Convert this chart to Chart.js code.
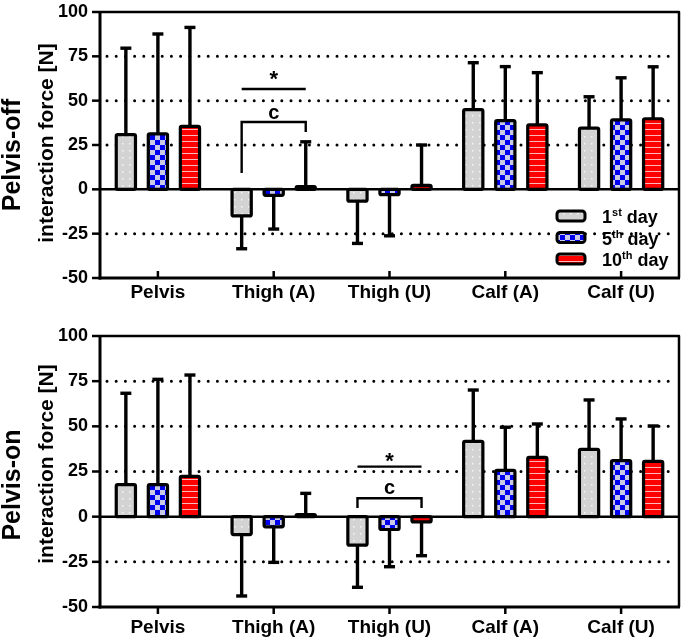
<!DOCTYPE html>
<html><head><meta charset="utf-8">
<script src="https://cdn.jsdelivr.net/npm/chart.js@4/dist/chart.umd.min.js"></script>
<style>
html,body{margin:0;padding:0;background:#fff;width:685px;height:640px;overflow:hidden}
.w{position:absolute;left:0;width:685px;height:320px}
</style></head><body>
<div class="w" style="top:0"><canvas id="c1" width="685" height="320"></canvas></div>
<div class="w" style="top:320px"><canvas id="c2" width="685" height="320"></canvas></div>
<script>
const categories = ['Pelvis', 'Thigh (A)', 'Thigh (U)', 'Calf (A)', 'Calf (U)'];
const seriesNames = [['1', 'st', ' day'], ['5', 'th', ' day'], ['10', 'th', ' day']];
const yTicks = [-50, -25, 0, 25, 50, 75, 100];
const dottedLevels = [75, 50, 25, -25];

// Pelvis-off: means and SD
const offDay1 = [30.8, -15.0, -6.7, 44.9, 34.5];
const offDay5 = [31.3, -3.4, -3.0, 38.8, 39.2];
const offDay10 = [35.5, 1.5, 2.2, 36.4, 39.8];
const offSd1 = [48.8, 18.5, 23.8, 26.5, 17.7];
const offSd5 = [56.3, 19.0, 23.2, 30.4, 23.7];
const offSd10 = [55.8, 25.3, 22.8, 29.4, 29.3];

// Pelvis-on: means and SD
const onDay1 = [17.7, -9.9, -15.8, 41.7, 37.2];
const onDay5 = [17.7, -5.6, -7.1, 25.6, 31.0];
const onDay10 = [22.3, 1.2, -2.9, 32.8, 30.6];
const onSd1 = [50.6, 34.0, 23.3, 28.4, 27.4];
const onSd5 = [58.3, 19.7, 20.6, 23.9, 23.1];
const onSd10 = [56.1, 11.7, 18.7, 18.5, 19.6];

// significance marks (category index, data-unit levels)
const offSignif = {cat: 1, starLine: 56.6, starText: 63.7, bracket: 38, leftEnd: 9.2, rightEnd: 32.3, letterText: 43, letter: 'c'};
const onSignif = {cat: 2, starLine: 27.7, starText: 32.7, bracket: 10.2, leftEnd: 4.8, rightEnd: 4.8, letterText: 15.6, letter: 'c'};

const FONT = '"Liberation Sans", Arial, Helvetica, sans-serif';

function makePattern(kind) {
  const c = document.createElement('canvas');
  const x = c.getContext('2d');
  if (kind === 'gray') {
    c.width = 7; c.height = 7;
    x.fillStyle = '#d3d3d3'; x.fillRect(0, 0, 7, 7);
    x.fillStyle = '#f6f6f6'; x.fillRect(3, 3, 1.5, 1.5);
  } else if (kind === 'blue') {
    c.width = 10; c.height = 10;
    x.fillStyle = '#0000f0'; x.fillRect(0, 0, 10, 10);
    x.fillStyle = '#cacae6'; x.fillRect(0, 0, 5, 5); x.fillRect(5, 5, 5, 5);
  } else {
    c.width = 6; c.height = 6;
    x.fillStyle = '#ff0000'; x.fillRect(0, 0, 6, 6);
    x.fillStyle = '#ffb8b8'; x.fillRect(0, 3, 6, 1);
  }
  return x.createPattern(c, 'repeat');
}
const patterns = [makePattern('gray'), makePattern('blue'), makePattern('red')];

function deco(sds, opts) {
  return {
    id: 'deco',
    beforeDatasetsDraw(chart) {
      const ctx = chart.ctx, a = chart.chartArea, y = chart.scales.y;
      ctx.save();
      ctx.strokeStyle = '#000';
      ctx.lineWidth = 3;
      ctx.lineCap = 'round';
      ctx.setLineDash([0, 9.2]);
      dottedLevels.forEach(v => {
        const yy = y.getPixelForValue(v);
        ctx.beginPath(); ctx.moveTo(a.left + 7, yy); ctx.lineTo(a.right - 2, yy); ctx.stroke();
      });
      ctx.setLineDash([]);
      ctx.lineCap = 'butt';
      ctx.lineWidth = 2.5;
      const y0 = y.getPixelForValue(0);
      ctx.beginPath(); ctx.moveTo(a.left, y0); ctx.lineTo(a.right, y0); ctx.stroke();
      ctx.restore();
    },
    afterDatasetsDraw(chart) {
      const ctx = chart.ctx, a = chart.chartArea, y = chart.scales.y, xs = chart.scales.x;
      ctx.save();
      ctx.strokeStyle = '#000';
      ctx.fillStyle = '#000';
      // bar outlines (centered on bar edges)
      ctx.lineWidth = 3.2;
      ctx.lineJoin = 'round';
      chart.data.datasets.forEach((ds, i) => {
        chart.getDatasetMeta(i).data.forEach(el => {
          const p = el.getProps(['x', 'y', 'base', 'width'], true);
          const top = Math.min(p.y, p.base), h = Math.abs(p.y - p.base);
          ctx.beginPath(); ctx.roundRect(p.x - p.width / 2, top, p.width, h, 1.5); ctx.stroke();
        });
      });
      // error bars
      ctx.lineWidth = 3.4;
      chart.data.datasets.forEach((ds, i) => {
        const meta = chart.getDatasetMeta(i);
        ds.data.forEach((v, j) => {
          const bx = meta.data[j].x;
          const end = v >= 0 ? v + sds[i][j] : v - sds[i][j];
          const p0 = y.getPixelForValue(v), p1 = y.getPixelForValue(end);
          ctx.beginPath(); ctx.moveTo(bx, p0); ctx.lineTo(bx, p1); ctx.stroke();
          ctx.beginPath(); ctx.moveTo(bx - 5.5, p1); ctx.lineTo(bx + 5.5, p1); ctx.stroke();
        });
      });
      // frame
      ctx.lineWidth = 2.5;
      ctx.beginPath(); ctx.moveTo(a.left, a.top); ctx.lineTo(a.right, a.top); ctx.lineTo(a.right, a.bottom); ctx.stroke();
      ctx.lineWidth = 3;
      ctx.beginPath(); ctx.moveTo(a.left, a.top - 1); ctx.lineTo(a.left, a.bottom + 1.5); ctx.stroke();
      ctx.beginPath(); ctx.moveTo(a.left - 1.5, a.bottom); ctx.lineTo(a.right + 1, a.bottom); ctx.stroke();
      // y ticks
      ctx.lineWidth = 2.5;
      yTicks.forEach(v => {
        const yy = y.getPixelForValue(v);
        ctx.beginPath(); ctx.moveTo(a.left - 8, yy); ctx.lineTo(a.left, yy); ctx.stroke();
      });
      // x ticks
      categories.forEach((c, j) => {
        const xx = xs.getPixelForValue(j);
        ctx.beginPath(); ctx.moveTo(xx, a.bottom); ctx.lineTo(xx, a.bottom + opts.xTick); ctx.stroke();
      });
      // significance
      const s = opts.signif;
      const xl = chart.getDatasetMeta(0).data[s.cat].x;
      const xr = chart.getDatasetMeta(2).data[s.cat].x;
      ctx.lineWidth = 2.4;
      let yy = y.getPixelForValue(s.starLine);
      ctx.beginPath(); ctx.moveTo(xl, yy); ctx.lineTo(xr, yy); ctx.stroke();
      const yb = y.getPixelForValue(s.bracket);
      ctx.lineJoin = 'miter';
      ctx.beginPath();
      ctx.moveTo(xl, y.getPixelForValue(s.leftEnd)); ctx.lineTo(xl, yb); ctx.lineTo(xr, yb); ctx.lineTo(xr, y.getPixelForValue(s.rightEnd));
      ctx.stroke();
      ctx.textAlign = 'center';
      ctx.textBaseline = 'middle';
      ctx.font = 'bold 22px ' + FONT;
      ctx.fillText('*', (xl + xr) / 2, y.getPixelForValue(s.starText) + 4);
      ctx.font = 'bold 20px ' + FONT;
      ctx.fillText(s.letter, (xl + xr) / 2, y.getPixelForValue(s.letterText));
      // axis titles
      ctx.textBaseline = 'alphabetic';
      ctx.save();
      ctx.translate(opts.t1x, opts.t1y); ctx.rotate(-Math.PI / 2);
      ctx.font = 'bold 25px ' + FONT; ctx.fillText(opts.title1, 0, 0);
      ctx.restore();
      ctx.save();
      ctx.translate(opts.t2x, opts.t2y); ctx.rotate(-Math.PI / 2);
      ctx.font = 'bold 21px ' + FONT; ctx.fillText('interaction force [N]', 0, 0);
      ctx.restore();
      // legend
      if (opts.legend) {
        const rows = [216, 237.5, 259];
        rows.forEach((cy, i) => {
          ctx.fillStyle = patterns[i];
          ctx.beginPath(); ctx.roundRect(557, cy - 5, 28, 10, 3); ctx.fill();
          ctx.lineWidth = 3; ctx.strokeStyle = '#000'; ctx.stroke();
          ctx.fillStyle = '#000';
          ctx.textAlign = 'left';
          let tx = 602, base = cy + 7;
          ctx.font = 'bold 18px ' + FONT;
          ctx.fillText(seriesNames[i][0], tx, base);
          tx += ctx.measureText(seriesNames[i][0]).width;
          ctx.font = 'bold 11px ' + FONT;
          ctx.fillText(seriesNames[i][1], tx, base - 7);
          tx += ctx.measureText(seriesNames[i][1]).width;
          ctx.font = 'bold 18px ' + FONT;
          ctx.fillText(seriesNames[i][2], tx, base);
        });
      }
      ctx.restore();
    }
  };
}

function build(id, vals, sds, opts) {
  return new Chart(document.getElementById(id), {
    type: 'bar',
    data: {
      labels: categories,
      datasets: vals.map((v, i) => ({
        label: seriesNames[i].join(''),
        data: v,
        backgroundColor: patterns[i],
        borderWidth: 0,
        categoryPercentage: 0.83,
        barPercentage: 0.6
      }))
    },
    options: {
      responsive: false,
      animation: false,
      devicePixelRatio: 1,
      layout: {padding: {left: 0, right: 6, top: opts.top, bottom: 0}},
      plugins: {legend: {display: false}, tooltip: {enabled: false}},
      scales: {
        x: {
          grid: {display: false, drawTicks: false},
          border: {display: false},
          ticks: {font: {family: FONT, size: 19, weight: 'bold'}, color: '#000', padding: opts.xPad, maxRotation: 0, autoSkip: false},
          afterFit: s => { s.height = opts.xH; s.paddingLeft = 0; s.paddingRight = 0; }
        },
        y: {
          min: -50, max: 100,
          afterBuildTicks: s => { s.ticks = yTicks.map(v => ({value: v})); },
          grid: {display: false, drawTicks: false},
          border: {display: false},
          ticks: {font: {family: FONT, size: 18, weight: 'bold'}, color: '#000', padding: 12},
          afterFit: s => { s.width = 100; s.paddingTop = 0; s.paddingBottom = 0; }
        }
      }
    },
    plugins: [deco(sds, opts)]
  });
}

build('c1', [offDay1, offDay5, offDay10], [offSd1, offSd5, offSd10],
  {top: 12, xH: 42, xPad: 3, xTick: -7, signif: offSignif, legend: true,
   title1: 'Pelvis-off', t1x: 20, t1y: 155, t2x: 53, t2y: 143});
build('c2', [onDay1, onDay5, onDay10], [onSd1, onSd5, onSd10],
  {top: 16, xH: 33, xPad: 9, xTick: 7, signif: onSignif, legend: false,
   title1: 'Pelvis-on', t1x: 20, t1y: 165, t2x: 53, t2y: 144});
</script>
</body></html>
